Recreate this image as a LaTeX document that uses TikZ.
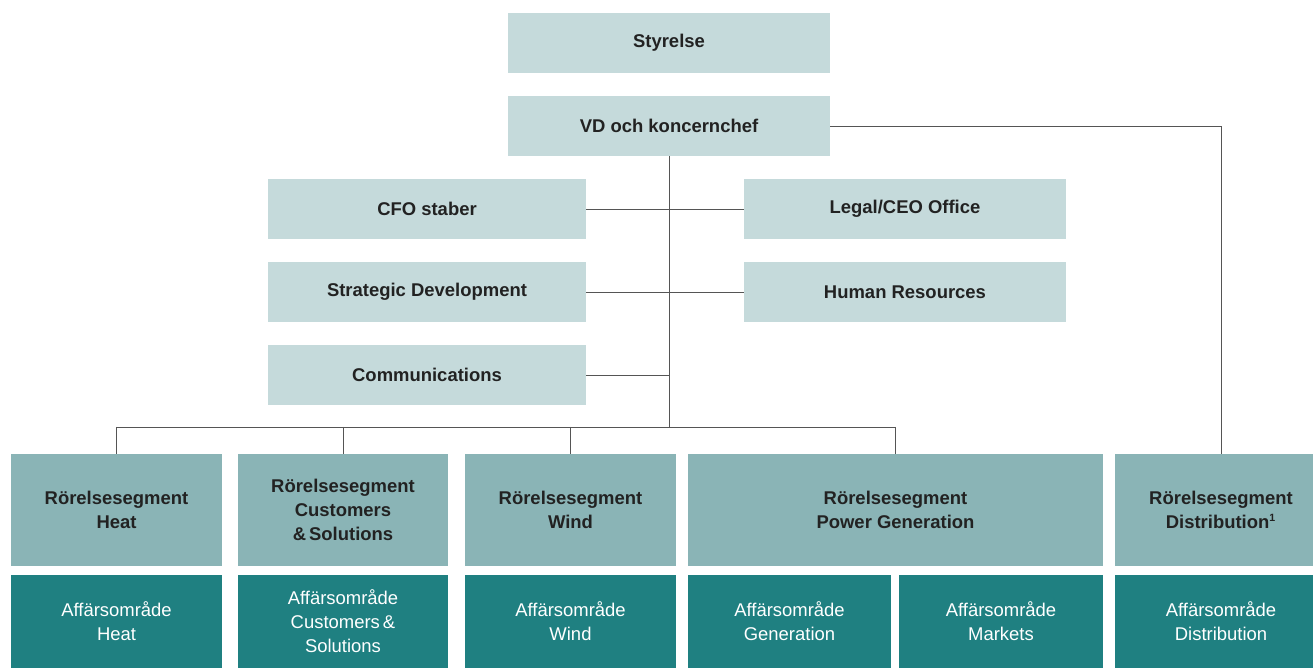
\documentclass[tikz,border=0pt]{standalone}
\usepackage{fontspec}
\setmainfont{Liberation Sans}
\usepackage{tikz}
\usetikzlibrary{positioning}
\definecolor{BoxLight}{HTML}{C5DADB}
\definecolor{BoxSeg}{HTML}{8AB4B6}
\definecolor{BoxArea}{HTML}{1F8081}
\definecolor{TextDark}{HTML}{222222}
\definecolor{LineGray}{HTML}{555555}
\newcommand{\BW}{6.44}
\newcommand{\BH}{1.2}

\begin{document}
\begin{tikzpicture}[
    staff/.style={fill=BoxLight, text=TextDark, minimum height=\BH cm, inner sep=0pt,
      font=\fontsize{10.5}{13.6}\selectfont\bfseries, align=center},
    segm/.style={fill=BoxSeg, text=TextDark, minimum height=2.24cm, inner sep=0pt,
      font=\fontsize{10.5}{13.6}\selectfont\bfseries, align=center},
    area/.style={fill=BoxArea, text=white, minimum height=1.86cm, inner sep=0pt,
      font=\fontsize{10.5}{13.6}\selectfont, align=center},
    conn/.style={draw=LineGray, line width=0.5pt}
  ]
  \useasboundingbox (0,0) rectangle (26.26,13.36);
  \clip (0,0) rectangle (26.26,13.36);

  % top of the tree
  \path (13.38,12.50) node (S) [staff, minimum width=\BW cm] {Styrelse};
  \path (13.38,10.84) node (VD) [staff, minimum width=\BW cm] {VD och koncernchef};

  % staff functions
  \path (8.54,9.18) node (CFO) [staff, minimum width=6.36cm] {CFO staber};
  \path (18.10,9.18) node (LEG) [staff, minimum width=\BW cm] {Legal/CEO Office};
  \path (8.54,7.52) node (SD) [staff, minimum width=6.36cm] {Strategic Development};
  \path (18.10,7.52) node (HR) [staff, minimum width=\BW cm] {Human Resources};
  \path (8.54,5.86) node (COM) [staff, minimum width=6.36cm] {Communications};

  % operating segments
  \path (2.33,3.16) node (R1) [segm, minimum width=4.22cm] {Rörelsesegment\\Heat};
  \path (6.86,3.16) node (R2) [segm, minimum width=4.20cm] {Rörelsesegment\\Customers\\\&\,Solutions};
  \path (11.41,3.16) node (R3) [segm, minimum width=4.22cm] {Rörelsesegment\\Wind};
  \path (17.91,3.16) node (R4) [segm, minimum width=8.30cm] {Rörelsesegment\\Power Generation};
  \path (24.42,3.16) node (R5) [segm, minimum width=4.24cm] {Rörelsesegment\\Distribution\textsuperscript{\fontsize{6}{6}\selectfont 1}};

  % business areas
  \path (2.33,0.93) node (A1) [area, minimum width=4.22cm] {Affärsområde\\Heat};
  \path (6.86,0.93) node (A2) [area, minimum width=4.20cm] {Affärsområde\\Customers\,\&\\Solutions};
  \path (11.41,0.93) node (A3) [area, minimum width=4.22cm] {Affärsområde\\Wind};
  \path (15.79,0.93) node (A4) [area, minimum width=4.06cm] {Affärsområde\\Generation};
  \path (20.02,0.93) node (A5) [area, minimum width=4.08cm] {Affärsområde\\Markets};
  \path (24.42,0.93) node (A6) [area, minimum width=4.24cm] {Affärsområde\\Distribution};

  % connectors
  \path (13.38,4.82) coordinate (B);
  \draw [conn] (VD.south) -- (B);
  \draw [conn] (CFO.east) -- (LEG.west);
  \draw [conn] (SD.east) -- (HR.west);
  \draw [conn] (COM.east) -- (COM.east -| B);
  \draw [conn] (R1.north |- B) -- (R4.north |- B);
  \foreach \X in {R1,R2,R3,R4}{
    \draw [conn] (\X.north |- B) -- (\X.north);
  }
  \draw [conn] (VD.east) -| (R5.north);

\end{tikzpicture}
\end{document}
